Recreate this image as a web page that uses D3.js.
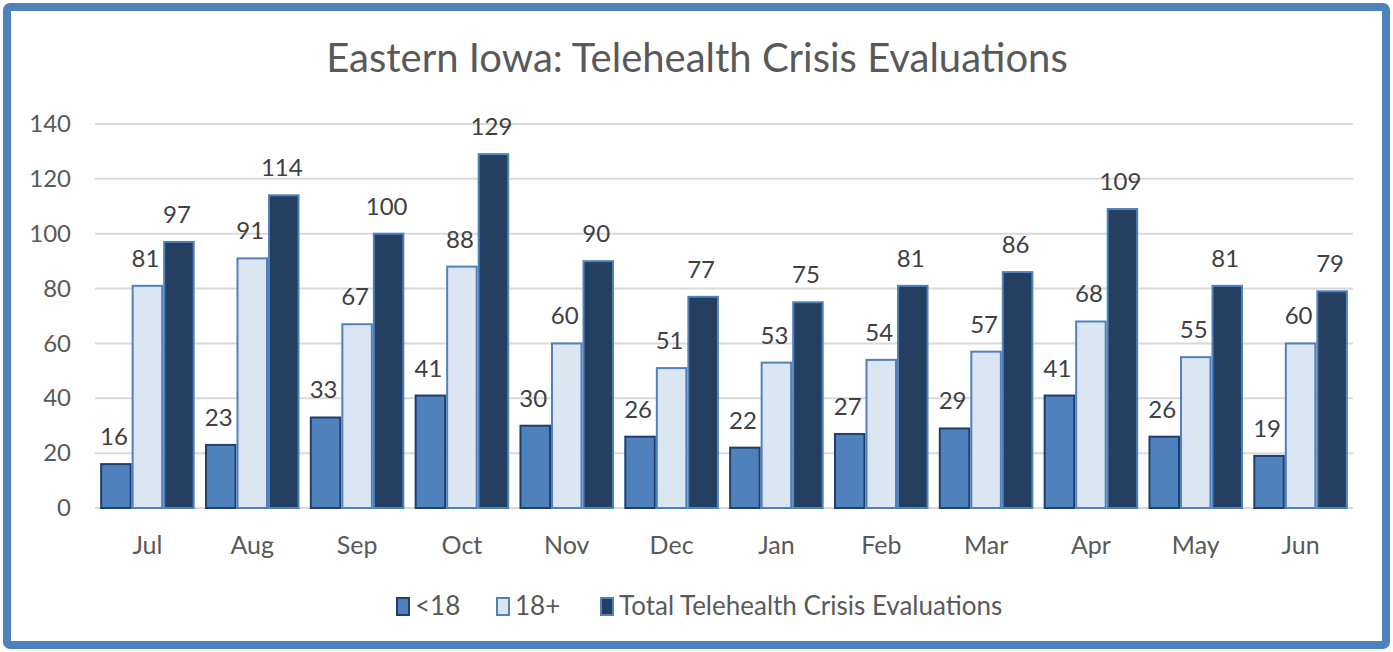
<!DOCTYPE html>
<html>
<head>
<meta charset="utf-8">
<script src="https://cdn.jsdelivr.net/npm/d3@7"></script>
<style>
  body { margin: 0; background: #fff; }
  text { font-family: Lato, "Open Sans", sans-serif; }
</style>
</head>
<body>
<svg width="1393" height="652"></svg>
<script>
var months = ["Jul", "Aug", "Sep", "Oct", "Nov", "Dec", "Jan", "Feb", "Mar", "Apr", "May", "Jun"];
var under18 = [16, 23, 33, 41, 30, 26, 22, 27, 29, 41, 26, 19];
var adults = [81, 91, 67, 88, 60, 51, 53, 54, 57, 68, 55, 60];
var totals = [97, 114, 100, 129, 90, 77, 75, 81, 86, 109, 81, 79];
var seriesNames = ["<18", "18+", "Total Telehealth Crisis Evaluations"];
var yTicks = [0, 20, 40, 60, 80, 100, 120, 140];

var svg = d3.select("svg"),
    width = +svg.attr("width"),
    height = +svg.attr("height");

var fills = ["#4f81bd", "#dce6f2", "#243f60"];
var strokes = ["#1f3f6e", "#4f81bd", "#4f81bd"];

// outer frame
svg.append("rect")
    .attr("x", 7).attr("y", 7)
    .attr("width", width - 14).attr("height", height - 14)
    .attr("rx", 3)
    .attr("fill", "#fff")
    .attr("stroke", "#4f81bd")
    .attr("stroke-width", 8);

svg.append("text")
    .attr("x", 697).attr("y", 72)
    .attr("text-anchor", "middle")
    .attr("font-size", 40)
    .attr("fill", "#595959")
    .text("Eastern Iowa: Telehealth Crisis Evaluations");

var plotLeft = 95, plotRight = 1353, plotTop = 124, plotBottom = 508;

var x = d3.scaleBand().domain(months).range([plotLeft, plotRight]).paddingInner(0.098).paddingOuter(0.049);
var sub = d3.scaleBand().domain([0, 1, 2]).range([0, x.bandwidth()]);
var y = d3.scaleLinear().domain([0, 140]).range([plotBottom, plotTop]);

// gridlines
svg.append("g").selectAll("line")
    .data(yTicks)
    .enter().append("line")
        .attr("x1", plotLeft).attr("x2", plotRight)
        .attr("y1", function(d) { return y(d); })
        .attr("y2", function(d) { return y(d); })
        .attr("stroke", "#d9d9d9")
        .attr("stroke-width", 2);

// y axis labels
var yAxis = svg.append("g")
    .attr("transform", "translate(" + (plotLeft - 24) + ",0)")
    .call(d3.axisLeft(y).tickValues(yTicks).tickSize(0).tickPadding(0));
yAxis.select(".domain").remove();
yAxis.selectAll("text")
    .attr("font-size", 24)
    .attr("fill", "#595959")
    .style("font-family", "Lato, 'Open Sans', sans-serif");

// x axis labels
var xAxis = svg.append("g")
    .attr("transform", "translate(0," + (plotBottom + 26) + ")")
    .call(d3.axisBottom(x).tickSize(0).tickPadding(0));
xAxis.select(".domain").remove();
xAxis.selectAll("text")
    .attr("font-size", 25)
    .attr("dy", "0.8em")
    .attr("fill", "#595959")
    .style("font-family", "Lato, 'Open Sans', sans-serif");

var series = [under18, adults, totals];
var rows = [];
months.forEach(function(m, i) {
    series.forEach(function(s, j) {
        rows.push({ month: m, s: j, value: s[i] });
    });
});

svg.append("g").selectAll("rect")
    .data(rows)
    .enter().append("rect")
        .attr("x", function(d) { return x(d.month) + sub(d.s) + 1; })
        .attr("y", function(d) { return y(d.value); })
        .attr("width", sub.bandwidth() - 2)
        .attr("height", function(d) { return plotBottom - y(d.value); })
        .attr("fill", function(d) { return fills[d.s]; })
        .attr("stroke", function(d) { return strokes[d.s]; })
        .attr("stroke-width", 2);

svg.append("g").selectAll("text")
    .data(rows)
    .enter().append("text")
        .attr("x", function(d) { return x(d.month) + sub(d.s) + sub.bandwidth() / 2 - 2; })
        .attr("y", function(d) { return y(d.value) - 19; })
        .attr("text-anchor", "middle")
        .attr("font-size", 24)
        .attr("fill", "#404040")
        .text(function(d) { return d.value; });

// legend
var legendX = [397, 497, 601];
var legend = svg.append("g").selectAll("g")
    .data(seriesNames)
    .enter().append("g")
        .attr("transform", function(d, i) { return "translate(" + legendX[i] + ",598)"; });
legend.append("rect")
    .attr("width", 12).attr("height", 17)
    .attr("fill", function(d, i) { return fills[i]; })
    .attr("stroke", function(d, i) { return strokes[i]; })
    .attr("stroke-width", 2);
legend.append("text")
    .attr("x", 18).attr("y", 17)
    .attr("font-size", 26)
    .attr("fill", "#595959")
    .text(function(d) { return d; });
</script>
</body>
</html>
